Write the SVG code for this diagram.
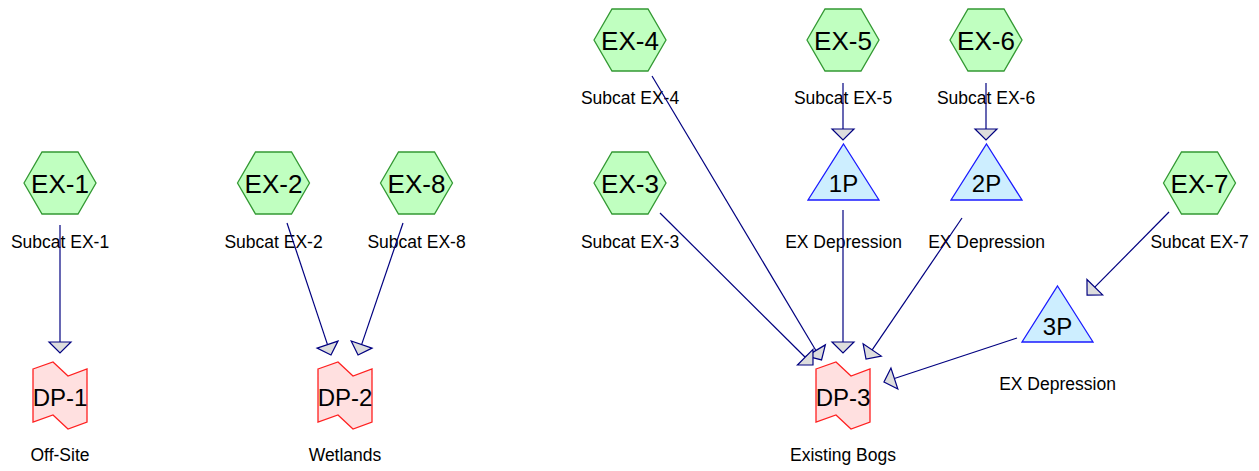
<svg xmlns="http://www.w3.org/2000/svg" width="1259" height="471" viewBox="0 0 1259 471">
<style>
.hex{fill:#c0ffc0;stroke:#339933;stroke-width:1.3}
.tri{fill:#cdeeff;stroke:#1a1aff;stroke-width:1.3}
.dp{fill:#ffe0e0;stroke:#ff2020;stroke-width:1.3}
.nt{font-family:"Liberation Sans",Arial,sans-serif;font-size:26px;fill:#000;text-anchor:middle}
.pt{font-family:"Liberation Sans",Arial,sans-serif;font-size:24px;fill:#000;text-anchor:middle}
.lb{font-family:"Liberation Sans",Arial,sans-serif;font-size:17.5px;fill:#000;text-anchor:middle}
.ed{stroke:#000080;stroke-width:1.2;fill:none;marker-end:url(#ah)}
</style>
<defs>
<marker id="ah" markerUnits="userSpaceOnUse" viewBox="-2 -13 15 26" refX="0" refY="0" markerWidth="15" markerHeight="26" orient="auto" overflow="visible">
<path d="M0,-11 L11,0 L0,11 Z" fill="#dddddd" stroke="#000080" stroke-width="1.2"/>
</marker>
<polygon id="hexs" points="-36,0 -18,-31 18,-31 36,0 18,31 -18,31"/>
<polygon id="tris" points="0,-28 35.5,28 -35.5,28"/>
<polygon id="dps" points="-27,-26.5 -7,-33.5 8,-19.5 27,-26.5 27,26.5 8,33.5 -7,19.5 -27,26.5"/>
</defs>
<g id="EX-1" transform="translate(60,183)"><use href="#hexs" class="hex"/><text class="nt" y="9.5">EX-1</text><text class="lb" y="65">Subcat EX-1</text></g>
<g id="EX-2" transform="translate(273.5,183)"><use href="#hexs" class="hex"/><text class="nt" y="9.5">EX-2</text><text class="lb" y="65">Subcat EX-2</text></g>
<g id="EX-8" transform="translate(416.5,183)"><use href="#hexs" class="hex"/><text class="nt" y="9.5">EX-8</text><text class="lb" y="65">Subcat EX-8</text></g>
<g id="EX-3" transform="translate(630,183)"><use href="#hexs" class="hex"/><text class="nt" y="9.5">EX-3</text><text class="lb" y="65">Subcat EX-3</text></g>
<g id="EX-7" transform="translate(1199.5,183)"><use href="#hexs" class="hex"/><text class="nt" y="9.5">EX-7</text><text class="lb" y="65">Subcat EX-7</text></g>
<g id="EX-4" transform="translate(630,40)"><use href="#hexs" class="hex"/><text class="nt" y="9.5">EX-4</text><text class="lb" y="64">Subcat EX-4</text></g>
<g id="EX-5" transform="translate(843,40)"><use href="#hexs" class="hex"/><text class="nt" y="9.5">EX-5</text><text class="lb" y="64">Subcat EX-5</text></g>
<g id="EX-6" transform="translate(986,40)"><use href="#hexs" class="hex"/><text class="nt" y="9.5">EX-6</text><text class="lb" y="64">Subcat EX-6</text></g>
<g id="1P" transform="translate(843.5,172)"><use href="#tris" class="tri"/><text class="pt" y="20">1P</text><text class="lb" y="76">EX Depression</text></g>
<g id="2P" transform="translate(986.5,172)"><use href="#tris" class="tri"/><text class="pt" y="20">2P</text><text class="lb" y="76">EX Depression</text></g>
<g id="3P" transform="translate(1057.5,314)"><use href="#tris" class="tri"/><text class="pt" y="21">3P</text><text class="lb" y="76">EX Depression</text></g>
<g id="DP-1" transform="translate(60,395.5)"><use href="#dps" class="dp"/><text class="pt" y="10.5">DP-1</text><text class="lb" y="65.5">Off-Site</text></g>
<g id="DP-2" transform="translate(345,395.5)"><use href="#dps" class="dp"/><text class="pt" y="10.5">DP-2</text><text class="lb" y="65.5">Wetlands</text></g>
<g id="DP-3" transform="translate(843,395.5)"><use href="#dps" class="dp"/><text class="pt" y="10.5">DP-3</text><text class="lb" y="65.5">Existing Bogs</text></g>
<g id="connectors">
<line class="ed" x1="60" y1="225" x2="60" y2="342"/>
<line class="ed" x1="287" y1="223" x2="327.5" y2="344.6"/>
<line class="ed" x1="403" y1="223" x2="361.6" y2="344.6"/>
<line class="ed" x1="652" y1="76" x2="815.9" y2="350.5"/>
<line class="ed" x1="660" y1="213" x2="805.2" y2="357.2"/>
<line class="ed" x1="843" y1="83" x2="843" y2="129"/>
<line class="ed" x1="986" y1="83" x2="986" y2="129"/>
<line class="ed" x1="843" y1="210" x2="843" y2="342"/>
<line class="ed" x1="962" y1="218" x2="872.2" y2="349.9"/>
<line class="ed" x1="1169" y1="212" x2="1094.8" y2="287.2"/>
<line class="ed" x1="1017" y1="338" x2="894.4" y2="378.5"/>
</g>
</svg>
